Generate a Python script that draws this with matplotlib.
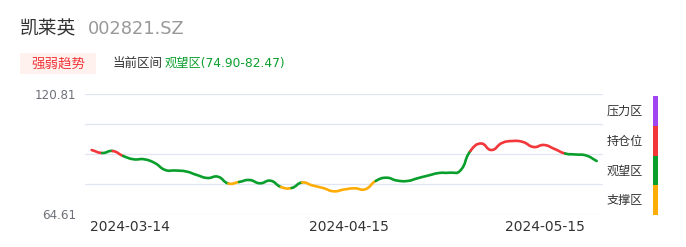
import numpy as np
import matplotlib
matplotlib.use("Agg")
import matplotlib.pyplot as plt
from matplotlib.path import Path
from matplotlib.patches import PathPatch, Rectangle

# ---------------- data ----------------
stock_name = "凯莱英"
stock_code = "002821.SZ"
tag_text = "强弱趋势"
cur_label = "当前区间"
cur_zone = "观望区(74.90-82.47)"

values = [94.72, 93.32, 94.26, 91.91, 90.37, 90.37, 88.64, 85.36, 85.12, 84.65,
          83.02, 81.61, 82.22, 79.03, 79.74, 80.67, 79.13, 80.35, 77.40, 76.93,
          79.50, 78.10, 76.93, 75.38, 76.23, 76.79, 76.32, 80.21, 81.75, 80.44,
          80.21, 81.52, 82.78, 83.95, 84.09, 84.89, 94.26, 97.77, 94.72, 98.00,
          98.94, 98.47, 96.13, 97.07, 95.19, 93.08, 92.62, 92.15, 89.57]

# zone of the segment that starts at each point
zones = (["持仓位", "观望区", "持仓位"] + ["观望区"] * 10 + ["支撑区"] + ["观望区"] * 4 +
         ["支撑区", "观望区"] + ["支撑区"] * 7 + ["观望区"] * 9 + ["持仓位"] * 9 +
         ["观望区"] * 4)

x_tick_labels = ["2024-03-14", "2024-04-15", "2024-05-15"]
x_tick_pos = [3.6, 24.5, 43.1]

y_min, y_max = 64.61, 120.81

zone_names = ["压力区", "持仓位", "观望区", "支撑区"]
zone_colors = {"压力区": "#A046F0", "持仓位": "#F2363A",
               "观望区": "#0A9F2C", "支撑区": "#FFAD05"}

# ---------------- figure ----------------
W, H = 686, 247
fig = plt.figure(figsize=(W / 100, H / 100), dpi=100)
fig.patch.set_facecolor("white")
FONT = ["DejaVu Sans", "Noto Sans CJK SC"]
plt.rcParams["font.family"] = FONT


def fx(px):
    return px / W


def fy(py):
    return 1 - py / H


# header
fig.text(fx(20), fy(29), stock_name, fontsize=13.5, color="#333333",
         va="center", ha="left", family=["Noto Sans CJK SC"])
fig.text(fx(88), fy(29), stock_code, fontsize=12.8, color="#999999",
         va="center", ha="left")

fig.add_artist(Rectangle((fx(20), fy(74)), 76 / W, 21 / H,
                         transform=fig.transFigure, facecolor="#FFF1EE",
                         edgecolor="none"))
fig.text(fx(58), fy(63.5), tag_text, fontsize=9.7, color="#F2363A",
         va="center", ha="center", family=["Noto Sans CJK SC"])
fig.text(fx(113), fy(63.5), cur_label, fontsize=9.0, color="#333333",
         va="center", ha="left", family=["Noto Sans CJK SC"])
fig.text(fx(165), fy(63.5), cur_zone, fontsize=8.8, color="#0A9F2C",
         va="center", ha="left", family=FONT)

# axes
left, right, top, bottom = 85, 603, 94.3, 214.3
ax = fig.add_axes([fx(left), fy(bottom), (right - left) / W, (bottom - top) / H])
ax.set_facecolor("white")
n = len(values)
xs = np.arange(n)
ax.set_xlim(-0.63, n - 1 + 0.6)
ax.set_ylim(y_min, y_max)
for s in ax.spines.values():
    s.set_visible(False)
yt = np.linspace(y_min, y_max, 5)
ax.set_yticks(yt)
ax.set_yticklabels([f"{y_min:.2f}", "", "", "", f"{y_max:.2f}"])
ax.grid(axis="y", color="#E0E6F1", linewidth=0.9)
ax.set_axisbelow(True)
ax.tick_params(axis="y", length=0, pad=6.5, labelsize=8.6, labelcolor="#6E7079")
ax.set_xticks(x_tick_pos)
ax.set_xticklabels(x_tick_labels)
ax.tick_params(axis="x", length=0, pad=4, labelsize=10, labelcolor="#333333")

# smooth line (echarts-like bezier), coloured by zone
fig.canvas.draw()
disp = ax.transData.transform(np.column_stack([xs, values]))
inv = ax.transData.inverted()
smooth = 0.5
cps = []
for i in range(n):
    p = disp[i]
    prev = disp[i - 1] if i > 0 else p
    nxt = disp[i + 1] if i < n - 1 else p
    v = nxt - prev
    d0 = np.hypot(*(p - prev))
    d1 = np.hypot(*(p - nxt))
    r = d1 / (d0 + d1) if (d0 + d1) > 0 else 0.5
    cp_next = p + v * smooth * r
    cp_prev = p - v * smooth * (1 - r)
    cps.append((cp_prev, cp_next))

i = 0
while i < n - 1:
    z = zones[i]
    j = i
    while j + 1 < n - 1 and zones[j + 1] == z:
        j += 1
    verts = [disp[i]]
    codes = [Path.MOVETO]
    for k in range(i, j + 1):
        verts += [cps[k][1], cps[k + 1][0], disp[k + 1]]
        codes += [Path.CURVE4] * 3
    verts = inv.transform(np.array(verts))
    ax.add_patch(PathPatch(Path(verts, codes), facecolor="none",
                           edgecolor=zone_colors[z], linewidth=1.9,
                           capstyle="round", joinstyle="round"))
    i = j + 1

# zone legend bar
bar_top, seg_h = 96, 29.8
for k, name in enumerate(zone_names):
    y0 = bar_top + k * seg_h
    fig.add_artist(Rectangle((fx(653), fy(y0 + seg_h)), 5 / W, seg_h / H,
                             transform=fig.transFigure,
                             facecolor=zone_colors[name], edgecolor="none"))
    fig.text(fx(607), fy(y0 + seg_h / 2 + 0.5), name, fontsize=8.7,
             color="#333333", va="center", ha="left",
             family=["Noto Sans CJK SC"])

fig.savefig("out.png", dpi=100, facecolor="white")
